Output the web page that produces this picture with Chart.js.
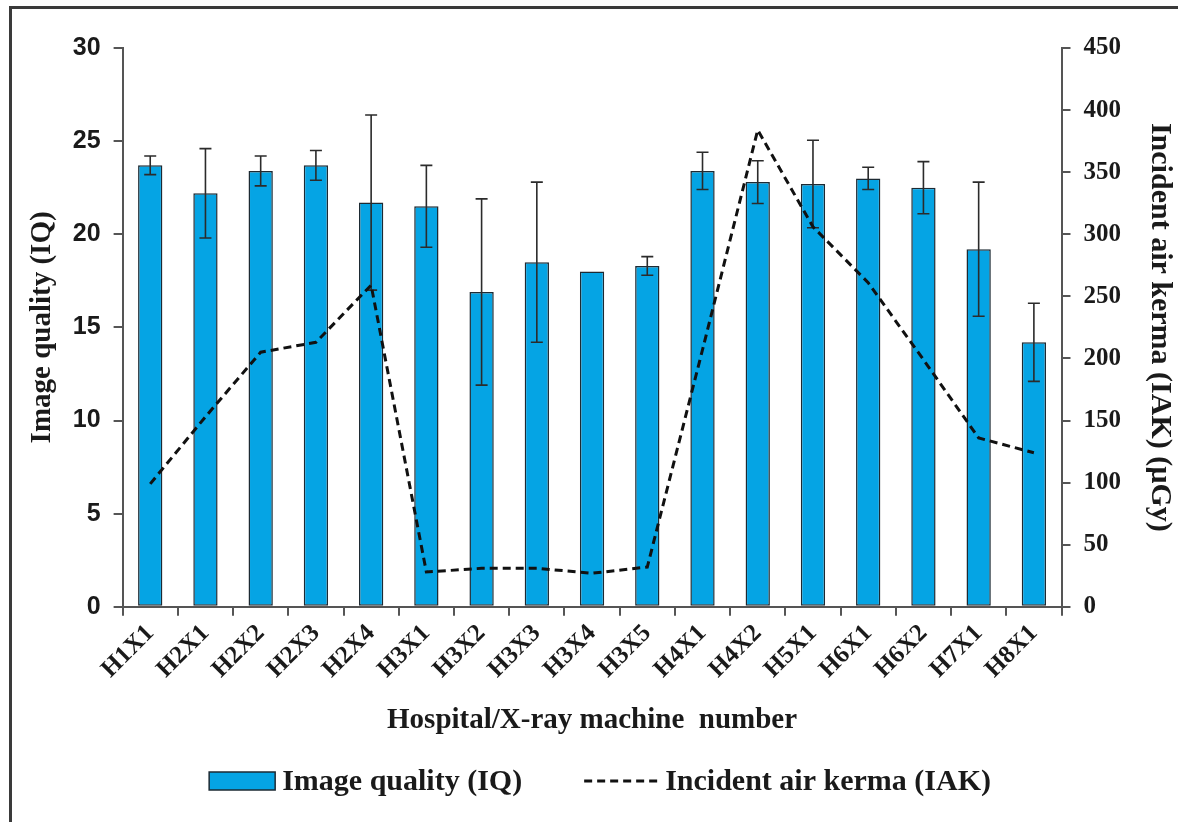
<!DOCTYPE html>
<html>
<head>
<meta charset="utf-8">
<script src="https://cdn.jsdelivr.net/npm/chart.js@4.4.1/dist/chart.umd.min.js"></script>
<style>
  html, body { margin: 0; padding: 0; background: #fff; }
  #wrap { position: relative; width: 1178px; height: 822px; }
  #frame {
    position: absolute; left: 9px; top: 6px; right: 0; bottom: 0;
    border-top: 3px solid #3a3a3a; border-left: 3px solid #3a3a3a;
    pointer-events: none;
  }
</style>
</head>
<body>
<div id="wrap">
  <canvas id="chart" width="1178" height="822"></canvas>
  <div id="frame"></div>
</div>
<script>
// hospital / machine codes
const machines = ['H1X1', 'H2X1', 'H2X2', 'H2X3', 'H2X4', 'H3X1', 'H3X2', 'H3X3', 'H3X4',
  'H3X5', 'H4X1', 'H4X2', 'H5X1', 'H6X1', 'H6X2', 'H7X1', 'H8X1'];

// image quality score, mean and sd (error bars)
const iqMean = [23.7, 22.2, 23.4, 23.7, 21.7, 21.5, 16.9, 18.5, 18.0, 18.3, 23.4, 22.8, 22.7, 23.0, 22.5, 19.2, 14.2];
const iqSd = [0.5, 2.4, 0.8, 0.8, 4.7, 2.2, 5.0, 4.3, 0, 0.5, 1.0, 1.15, 2.35, 0.6, 1.4, 3.6, 2.1];

// incident air kerma, uGy
const iakMean = [99, 153, 205, 213, 259, 28, 31, 31, 27, 32, 207, 384, 306, 261, 199, 136, 124];

const serif = '"Liberation Serif", "Times New Roman", serif';
const ink = '#1a1a1a';
const axisGray = '#555';

// sd whiskers on the bars, drawn right after the bar dataset
const errorBars = {
  id: 'errorBars',
  afterDatasetDraw(chart, args) {
    if (args.index !== 0) return;
    const ctx = chart.ctx;
    const y = chart.scales.y;
    ctx.save();
    ctx.strokeStyle = '#2b2b2b';
    ctx.lineWidth = 1.6;
    args.meta.data.forEach((bar, i) => {
      const sd = iqSd[i];
      if (!sd) return;
      const top = y.getPixelForValue(iqMean[i] + sd);
      const bot = y.getPixelForValue(iqMean[i] - sd);
      ctx.beginPath();
      ctx.moveTo(bar.x, top); ctx.lineTo(bar.x, bot);
      ctx.moveTo(bar.x - 6, top); ctx.lineTo(bar.x + 6, top);
      ctx.moveTo(bar.x - 6, bot); ctx.lineTo(bar.x + 6, bot);
      ctx.stroke();
    });
    ctx.restore();
  }
};

// legend under the axis title
const bottomLegend = {
  id: 'bottomLegend',
  afterDraw(chart) {
    const ctx = chart.ctx;
    const [bars, line] = chart.data.datasets;
    const y = 781;
    const boxW = 66, lineW = 75, gap = 62;
    ctx.save();
    ctx.font = 'bold 30px ' + serif;
    ctx.textBaseline = 'middle';
    const w1 = ctx.measureText(bars.label).width;
    const w2 = ctx.measureText(line.label).width;
    const total = boxW + 7 + w1 + gap + lineW + 6 + w2;
    let x = (chart.chartArea.left + chart.chartArea.right) / 2 + 8 - total / 2;

    ctx.fillStyle = bars.backgroundColor;
    ctx.fillRect(x, y - 9, boxW, 18);
    ctx.strokeStyle = bars.borderColor;
    ctx.lineWidth = 1.5;
    ctx.strokeRect(x, y - 9, boxW, 18);
    ctx.fillStyle = ink;
    ctx.fillText(bars.label, x + boxW + 7, y + 1);

    x += boxW + 7 + w1 + gap;
    ctx.beginPath();
    ctx.setLineDash(line.borderDash);
    ctx.strokeStyle = line.borderColor;
    ctx.lineWidth = line.borderWidth;
    ctx.moveTo(x, y);
    ctx.lineTo(x + lineW, y);
    ctx.stroke();
    ctx.setLineDash([]);
    ctx.fillText(line.label, x + lineW + 6, y + 1);
    ctx.restore();
  }
};

new Chart(document.getElementById('chart'), {
  data: {
    labels: machines,
    datasets: [
      {
        type: 'bar',
        label: 'Image quality (IQ)',
        data: iqMean,
        yAxisID: 'y',
        backgroundColor: '#05a4e4',
        borderColor: '#1d2a33',
        borderWidth: 1.5,
        borderSkipped: false,
        barPercentage: 0.44,
        categoryPercentage: 1,
        order: 1
      },
      {
        type: 'line',
        label: 'Incident air kerma (IAK)',
        data: iakMean,
        yAxisID: 'y1',
        borderColor: '#111',
        borderWidth: 3,
        borderDash: [8, 5],
        pointRadius: 0,
        tension: 0,
        fill: false,
        order: 0
      }
    ]
  },
  options: {
    responsive: false,
    animation: false,
    layout: {
      padding: {left: 20, right: 0, top: 48, bottom: 84}
    },
    plugins: {
      legend: {display: false},
      tooltip: {enabled: false}
    },
    scales: {
      x: {
        grid: {
          offset: true,
          drawOnChartArea: false,
          tickLength: 9,
          tickColor: axisGray,
          lineWidth: 2
        },
        border: {color: axisGray, width: 2},
        ticks: {
          autoSkip: false,
          minRotation: 45,
          maxRotation: 45,
          padding: 3,
          color: ink,
          font: {family: serif, size: 25, weight: 'bold'}
        },
        title: {
          display: true,
          text: 'Hospital/X-ray machine  number',
          color: ink,
          font: {family: serif, size: 29, weight: 'bold'},
          padding: {top: 16, bottom: 0}
        }
      },
      y: {
        position: 'left',
        min: 0,
        max: 30,
        ticks: {
          stepSize: 5,
          padding: 13,
          color: ink,
          font: {family: '"Liberation Sans", Arial, sans-serif', size: 25, weight: 'bold'}
        },
        grid: {
          drawOnChartArea: false,
          tickLength: 9,
          tickColor: axisGray,
          lineWidth: 2
        },
        border: {color: axisGray, width: 2},
        title: {
          display: true,
          text: 'Image quality (IQ)',
          color: ink,
          font: {family: serif, size: 29, weight: 'bold'},
          padding: {top: 5, bottom: 0}
        }
      },
      y1: {
        position: 'right',
        min: 0,
        max: 450,
        ticks: {
          stepSize: 50,
          padding: 13,
          color: ink,
          font: {family: serif, size: 25, weight: 'bold'}
        },
        grid: {
          drawOnChartArea: false,
          tickLength: 9,
          tickColor: axisGray,
          lineWidth: 2
        },
        border: {color: axisGray, width: 2},
        title: {
          display: true,
          text: 'Incident air kerma (IAK) (µGy)',
          color: ink,
          font: {family: serif, size: 30, weight: 'bold'},
          padding: {top: 0, bottom: 8}
        }
      }
    }
  },
  plugins: [errorBars, bottomLegend]
});
</script>
</body>
</html>
